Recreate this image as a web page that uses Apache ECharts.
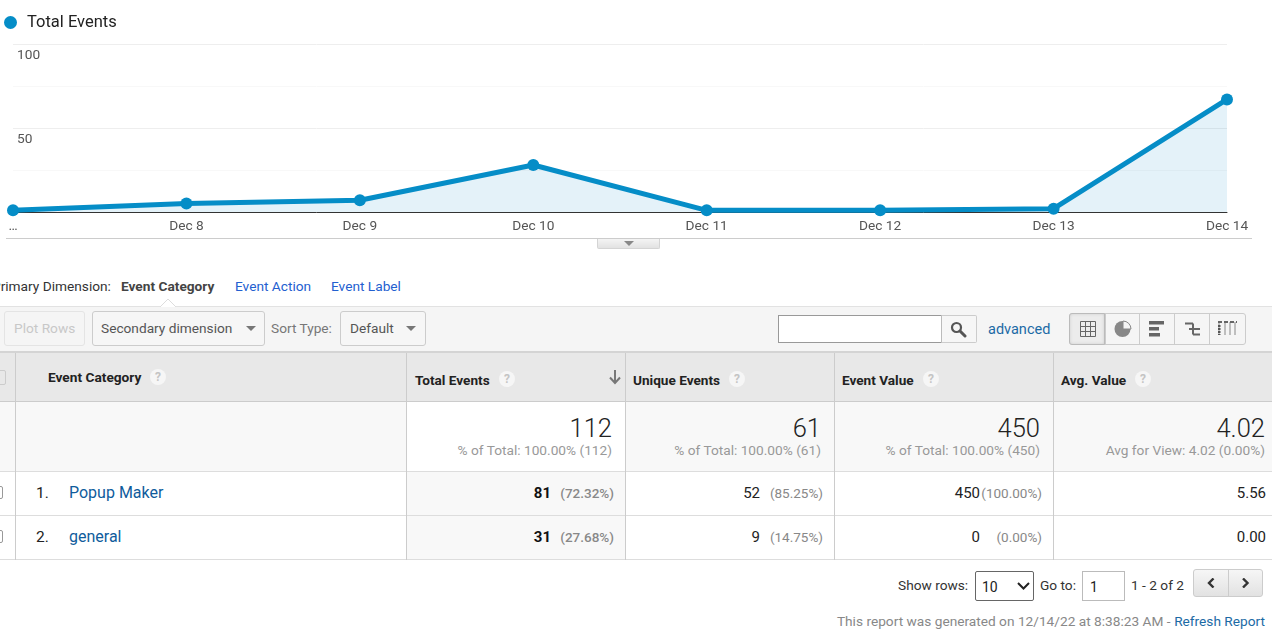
<!DOCTYPE html>
<html>
<head>
<meta charset="utf-8">
<title>Total Events</title>
<script src="https://cdn.jsdelivr.net/npm/echarts@6/dist/echarts.min.js"></script>
<style>
html,body{margin:0;padding:0;width:1272px;height:636px;overflow:hidden;background:#fff;font-family:Roboto,Arial,sans-serif;}
#main{position:absolute;left:0;top:0;width:1272px;height:260px;}
#ui div,#ui span.t{position:absolute;white-space:nowrap;box-sizing:border-box;}
#ui svg{position:absolute;}
.btn{border:1px solid #ccc;border-radius:3px;background:#f6f6f6;}
.caret{width:0;height:0;border-left:5px solid transparent;border-right:5px solid transparent;border-top:5px solid #777;}
</style>
</head>
<body>
<div id="main"></div>
<div id="ui"></div>
<script>
// chart data
var dayLabels = ['…', 'Dec 8', 'Dec 9', 'Dec 10', 'Dec 11', 'Dec 12', 'Dec 13', 'Dec 14'];
var totalEvents = [1, 5, 7, 28, 1, 1, 2, 67];
var yTicks = {50: '50', 100: '100'};

// table data
var columnNames = ['Total Events', 'Unique Events', 'Event Value', 'Avg. Value'];
var totalsTop = ['112', '61', '450', '4.02'];
var totalsSub = ['% of Total: 100.00% (112)', '% of Total: 100.00% (61)', '% of Total: 100.00% (450)', 'Avg for View: 4.02 (0.00%)'];
var rowNames = ['Popup Maker', 'general'];
var rowTotal = ['81', '31'];
var rowTotalPct = ['(72.32%)', '(27.68%)'];
var rowUnique = ['52', '9'];
var rowUniquePct = ['(85.25%)', '(14.75%)'];
var rowValue = ['450', '0'];
var rowValuePct = ['(100.00%)', '(0.00%)'];
var rowAvg = ['5.56', '0.00'];

var chart = echarts.init(document.getElementById('main'));
chart.setOption({
    animation: false,
    textStyle: {fontFamily: 'Roboto'},
    legend: {
        left: -1,
        top: 9,
        icon: 'circle',
        itemWidth: 23,
        itemHeight: 13,
        selectedMode: false,
        textStyle: {fontSize: 16.5, color: '#222', fontFamily: 'Roboto'},
        data: ['Total Events']
    },
    grid: {left: 13, right: 45, top: 44, height: 168},
    xAxis: {
        type: 'category',
        boundaryGap: false,
        data: dayLabels,
        axisTick: {show: false},
        axisLine: {lineStyle: {color: '#333', width: 1}},
        axisLabel: {interval: 0, color: '#555', fontSize: 13.7, margin: 8, fontFamily: 'Roboto'},
        splitLine: {show: false}
    },
    yAxis: {
        type: 'value',
        min: 0,
        max: 100,
        interval: 25,
        axisLine: {show: false},
        axisTick: {show: false},
        axisLabel: {
            inside: true,
            verticalAlign: 'top',
            margin: 4,
            color: '#555',
            fontSize: 13.7,
            fontFamily: 'Roboto',
            padding: [5, 0, 0, 0],
            formatter: function (v) {
                return yTicks[v] || '';
            }
        },
        splitLine: {lineStyle: {color: ['#fff', '#f8f8f8', '#eee', '#f8f8f8', '#eee'], width: 1}}
    },
    series: [{
        name: 'Total Events',
        type: 'line',
        data: totalEvents,
        color: '#058dc7',
        symbol: 'circle',
        symbolSize: 12,
        showSymbol: true,
        lineStyle: {width: 5, color: '#058dc7'},
        itemStyle: {color: '#058dc7'},
        areaStyle: {color: '#058dc7', opacity: 0.11},
        clip: false,
        z: 3
    }]
});

// report chrome around the chart
var ui = document.getElementById('ui');
function box(l, t, w, h, css) {
    var d = document.createElement('div');
    d.style.cssText = 'left:' + l + 'px;top:' + t + 'px;width:' + w + 'px;height:' + h + 'px;' + (css || '');
    ui.appendChild(d);
    return d;
}
function txt(s, x, cy, css) {
    var d = document.createElement('div');
    d.textContent = s;
    d.style.cssText = 'left:' + x + 'px;top:' + (cy - 10) + 'px;height:20px;line-height:20px;font-size:13.7px;' + (css || '');
    ui.appendChild(d);
    return d;
}
function rtxt(s, x, cy, css) {
    var d = txt(s, 0, cy, css);
    d.style.left = 'auto';
    d.style.right = (1272 - x) + 'px';
    return d;
}
function svg(x, y, w, h, inner) {
    var d = document.createElement('div');
    d.style.cssText = 'left:' + x + 'px;top:' + y + 'px;width:' + w + 'px;height:' + h + 'px;';
    d.innerHTML = '<svg width="' + w + '" height="' + h + '" viewBox="0 0 ' + w + ' ' + h + '">' + inner + '</svg>';
    ui.appendChild(d);
}
function help(cx, cy) {
    box(cx - 8, cy - 8, 16, 16, 'border-radius:8px;background:#f6f6f6;');
    txt('?', cx - 4, cy, 'color:#c4c4c4;font-size:12px;font-weight:700;width:8px;text-align:center;');
}

// collapse tab under the chart
box(6, 238, 1246, 1, 'background:#ccc;');
box(597, 239, 63, 10, 'background:linear-gradient(#f4f4f4,#e2e2e2);border:1px solid #d4d4d4;border-top:0;border-radius:0 0 2px 2px;');
box(624, 241, 10, 5, 'width:0;height:0;border-left:5px solid transparent;border-right:5px solid transparent;border-top:5px solid #888;');

// dimension picker
txt('Primary Dimension:', -8, 286, 'color:#333;');
txt('Event Category', 121, 286, 'color:#444;font-weight:700;');
txt('Event Action', 235, 286, 'color:#2360d0;');
txt('Event Label', 331, 286, 'color:#2360d0;');

// toolbar
box(0, 306, 1272, 47, 'background:#f5f5f5;border-top:1px solid #e2e2e2;border-bottom:2px solid #d4d4d4;');
svg(160, 299, 16, 8, '<path d="M0 8 L8 0 L16 8" fill="#fff" stroke="#ddd"/><path d="M1 8 L15 8" stroke="#fff" stroke-width="2"/>');
box(4, 311, 81, 35, 'border:1px solid #e4e4e4;border-radius:3px;');
txt('Plot Rows', 14, 328, 'color:#c8c8c8;');
box(92, 311, 173, 35, '').className = 'btn';
txt('Secondary dimension', 101, 328, 'color:#555;');
box(246, 326, 10, 5, '').className = 'caret';
txt('Sort Type:', 271, 328, 'color:#777;');
box(340, 311, 86, 35, '').className = 'btn';
txt('Default', 350, 328, 'color:#555;');
box(406, 326, 10, 5, '').className = 'caret';

// search box
box(778, 315, 164, 28, 'background:#fff;border:1px solid #999;');
box(941, 315, 36, 28, 'background:#f6f6f6;border:1px solid #ccc;border-left:1px solid #bbb;border-radius:0 2px 2px 0;');
svg(950, 321, 17, 17, '<circle cx="6.5" cy="6.5" r="4.5" fill="none" stroke="#555" stroke-width="2.2"/><path d="M10 10 L15 15" stroke="#555" stroke-width="3" stroke-linecap="round"/>');
txt('advanced', 988, 330, 'color:#1b6aa5;font-size:14.5px;');

// view switcher
box(1069, 313, 177, 32, 'background:#f5f5f5;border:1px solid #ccc;border-radius:3px;');
box(1069, 313, 36, 32, 'background:#ececec;border:1px solid #bbb;border-radius:3px 0 0 3px;box-shadow:inset 0 0 3px #ccc;');
box(1139, 314, 1, 30, 'background:#ccc;');
box(1174, 314, 1, 30, 'background:#ccc;');
box(1209, 314, 1, 30, 'background:#ccc;');
box(1105, 314, 1, 30, 'background:#ccc;');
svg(1080, 321, 16, 16, '<path d="M0.5 0.5H15.5V15.5H0.5ZM5.5 0.5V15.5M10.5 0.5V15.5M0.5 5.5H15.5M0.5 10.5H15.5" fill="none" stroke="#666"/>');
svg(1114, 320, 18, 18, '<circle cx="8.5" cy="9" r="8" fill="#888"/><path d="M9 9 V1 A8 8 0 0 1 17 9 Z" fill="#f5f5f5" stroke="#888"/>');
svg(1149, 320, 16, 17, '<rect x="0" y="1" width="15" height="3.5" fill="#666"/><rect x="0" y="7" width="10" height="3.5" fill="#666"/><rect x="0" y="13" width="11" height="3.5" fill="#666"/>');
svg(1184, 320, 17, 17, '<path d="M1 3.5H9M9 3.5V9M5 9H16M9 9V14.5M9 14.5H16" fill="none" stroke="#666" stroke-width="2"/>');
svg(1218, 321, 19, 15, '<path d="M1 1V14M7 1V14M12 1V14M17 1V14" stroke="#888" stroke-width="1"/><path d="M0 1H19" stroke="#666" stroke-width="2" stroke-dasharray="4 2"/><path d="M1 4V14" stroke="#555" stroke-width="3" stroke-dasharray="2 1"/>');

// table
var headText = [415, 633, 842, 1061];
var helpX = [507, 737, 931, 1143];
var rightEdge = [612, 821, 1040, 1265];

box(0, 353, 1272, 49, 'background:#e8e8e8;border-bottom:1px solid #ccc;');
box(-8, 370, 14, 15, 'border:1px solid #ccc;border-radius:2px;');
txt('Event Category', 48, 377, 'color:#222;font-weight:700;');
help(158, 377);
for (var i = 0; i < columnNames.length; i++) {
    txt(columnNames[i], headText[i], 380, 'color:#222;font-weight:700;font-size:13.6px;');
    help(helpX[i], 379);
}
svg(608, 370, 14, 15, '<path d="M7 0V12M2 7.5L7 13L12 7.5" fill="none" stroke="#777" stroke-width="2"/>');

// totals row
box(0, 402, 407, 70, 'background:#f8f8f8;');
box(626, 402, 646, 70, 'background:#f8f8f8;');
for (var i = 0; i < totalsTop.length; i++) {
    rtxt(totalsTop[i], rightEdge[i], 428, 'color:#222;font-size:25.5px;font-weight:300;');
    rtxt(totalsSub[i], rightEdge[i], 450, 'color:#999;font-size:13.7px;');
}

// data rows
box(407, 472, 218, 88, 'background:#f8f8f8;');
var rowCy = [492.5, 536.5];
for (var r = 0; r < rowNames.length; r++) {
    var cy = rowCy[r];
    box(-9, cy - 7, 12, 13, 'border:1px solid #999;border-radius:2px;');
    txt((r + 1) + '.', 36, cy, 'color:#222;font-size:15.5px;');
    txt(rowNames[r], 69, cy, 'color:#0f5c9c;font-size:16px;');
    rtxt(rowTotal[r], 551, cy, 'color:#111;font-weight:700;font-size:15px;');
    rtxt(rowTotalPct[r], 614, cy, 'color:#888;font-weight:500;font-size:13.5px;');
    rtxt(rowUnique[r], 760, cy, 'color:#222;font-size:15px;');
    rtxt(rowUniquePct[r], 823, cy, 'color:#888;font-size:13.5px;');
    rtxt(rowValue[r], 980, cy, 'color:#222;font-size:15px;');
    rtxt(rowValuePct[r], 1042, cy, 'color:#888;font-size:13.5px;');
    rtxt(rowAvg[r], 1266, cy, 'color:#222;font-size:15px;');
}

// grid lines of the table
box(0, 471, 1272, 1, 'background:#ddd;');
box(0, 515, 1272, 1, 'background:#ddd;');
box(0, 559, 1272, 1, 'background:#ddd;');
box(15, 353, 1, 207, 'background:#ccc;');
box(406, 353, 1, 207, 'background:#ccc;');
box(625, 353, 1, 207, 'background:#ccc;');
box(834, 353, 1, 207, 'background:#ccc;');
box(1053, 353, 1, 207, 'background:#ccc;');

// pager
txt('Show rows:', 898, 585, 'color:#333;');
box(975, 571, 59, 30, 'border:1px solid #666;border-radius:2px;background:#fff;');
txt('10', 982, 586.5, 'color:#222;font-size:14px;');
svg(1017, 582, 13, 8, '<path d="M1 1L6.5 6.5L12 1" fill="none" stroke="#222" stroke-width="2"/>');
txt('Go to:', 1040, 585, 'color:#333;');
box(1082, 571, 43, 30, 'border:1px solid #bbb;background:#fff;');
txt('1', 1090, 587, 'color:#222;font-size:14px;');
txt('1 - 2 of 2', 1131, 585, 'color:#333;');
box(1193, 569, 70, 28, 'background:linear-gradient(#f6f6f6,#e2e2e2);border:1px solid #ccc;border-radius:3px;');
box(1228, 570, 1, 26, 'background:#ccc;');
svg(1207, 578, 9, 10, '<path d="M6.5 0.5L2 5L6.5 9.5" fill="none" stroke="#333" stroke-width="2.4"/>');
svg(1241, 578, 9, 10, '<path d="M2 0.5L6.5 5L2 9.5" fill="none" stroke="#333" stroke-width="2.4"/>');

// footer
rtxt('Refresh Report', 1265, 621, 'color:#1b6aa5;');
rtxt('This report was generated on 12/14/22 at 8:38:23 AM - ', 1174, 621, 'color:#888;white-space:pre;');
</script>
</body>
</html>
